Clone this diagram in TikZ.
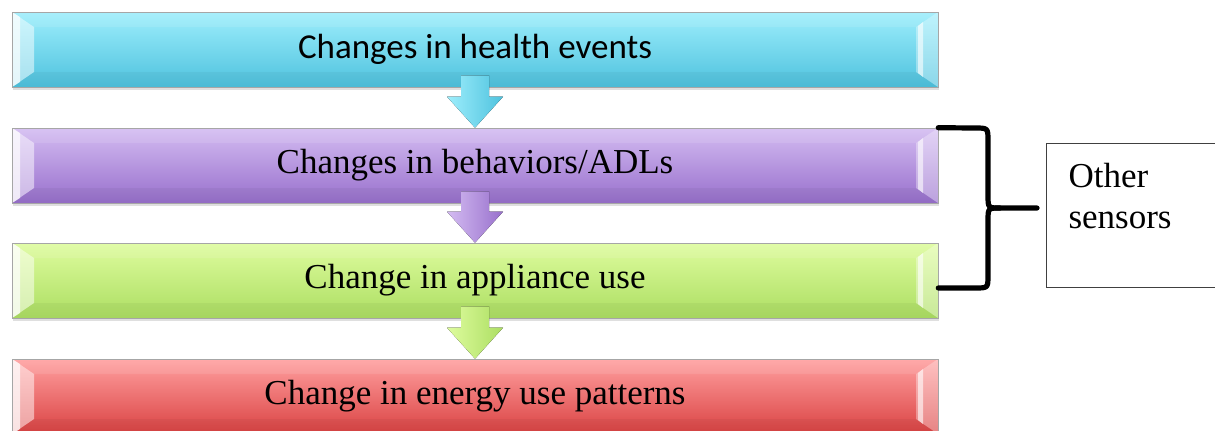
\documentclass[tikz,border=0pt]{standalone}
\usepackage{fontspec}
\setmainfont{Liberation Serif}
\newfontfamily\calfont{Carlito}
\usetikzlibrary{%
  calc,%
  shadows,%
  positioning%
}

\definecolor{cyanA}{RGB}{158,238,252}
\definecolor{cyanB}{RGB}{78,194,222}
\definecolor{purpA}{RGB}{212,188,242}
\definecolor{purpB}{RGB}{152,112,204}
\definecolor{limeA}{RGB}{222,252,158}
\definecolor{limeB}{RGB}{172,222,98}
\definecolor{redA}{RGB}{255,160,160}
\definecolor{redB}{RGB}{218,66,66}

\begin{document}
\begin{tikzpicture}
  [
  x=0.5pt, y=-0.5pt, font=\fontsize{17.5}{20.5}\selectfont, text=black,
  level/.style={rectangle, minimum height=37.5pt, minimum width=463pt, inner sep=0pt,
    draw=black!35, line width=0.3pt, top color=#1A, bottom color=#1B,
    drop shadow={shadow xshift=0.6pt, shadow yshift=-1.4pt, opacity=0.25}, bevel},
  bevel/.style={path picture={
    \coordinate (nw) at (path picture bounding box.north west);
    \coordinate (ne) at (path picture bounding box.north east);
    \coordinate (sw) at (path picture bounding box.south west);
    \coordinate (se) at (path picture bounding box.south east);
    \fill[white, opacity=0.1] (nw) -- ($(nw)+(22,15)$) -- ($(ne)+(-22,15)$) -- (ne) -- cycle;
    \fill[black, opacity=0.04] (sw) -- ($(sw)+(22,-15)$) -- ($(se)+(-22,-15)$) -- (se) -- cycle;
    \fill[white, opacity=0.5] (nw) -- ($(nw)+(22,15)$) -- ($(sw)+(22,-15)$) -- (sw) -- cycle;
    \fill[white, opacity=0.7] (nw) -- ($(nw)+(8,5)$) -- ($(sw)+(8,-5)$) -- (sw) -- cycle;
    \fill[white, opacity=0.35] (ne) -- ($(ne)+(-22,15)$) -- ($(se)+(-22,-15)$) -- (se) -- cycle;
    \fill[white, opacity=0.6] ($(ne)+(-20,14)$) -- ($(ne)+(-15,10)$) -- ($(se)+(-15,-10)$) -- ($(se)+(-20,-14)$) -- cycle;
  }},
  othbox/.style={rectangle, draw=black!75, line width=0.5pt, text width=80pt, align=left,
    inner xsep=11pt, inner ysep=0pt, text height=22pt, text depth=50pt},
  bracepen/.style={line width=2.6pt, line join=round, line cap=round}
  ]

\path[use as bounding box, fill=white] (0,0) rectangle (1215,430);
\clip (0,0) rectangle (1215,430);

\node[level=cyan] (c1) at (475,49.5) {\calfont Changes in health events};
\node[level=purp] (c2) at (475,165.5) {Changes in behaviors/ADLs};
\node[level=lime] (c3) at (475,280.5) {Change in appliance use};
\node[level=red] (c4) at (475,396.5) {Change in energy use patterns};

\foreach \a/\b/\c in {c1/c2/cyan, c2/c3/purp, c3/c4/lime} {
  \fill[left color=\c A, right color=\c B]
    ($(\a.south)+(-14,-12)$) -- ($(\b.north)+(-14,-31)$) -- ($(\b.north)+(-28,-31)$)
    -- (\b.north) -- ($(\b.north)+(28,-31)$) -- ($(\b.north)+(14,-31)$)
    -- ($(\a.south)+(14,-12)$) -- cycle;
}

\node[othbox, anchor=north west] (oth) at (1046,143) {Other\\sensors};

\coordinate (tip) at (1037,208);
\draw[bracepen] (c2.north east) -- (975,128) .. controls (988,128) .. (988,141)
  -- (988,195) .. controls (988,208) .. (1000,208) -- (tip);
\draw[bracepen] (1000,208) .. controls (988,208) .. (988,221)
  -- (988,275) .. controls (988,288) .. (975,288) -- (c3.east |- 0,288);
\end{tikzpicture}
\end{document}
